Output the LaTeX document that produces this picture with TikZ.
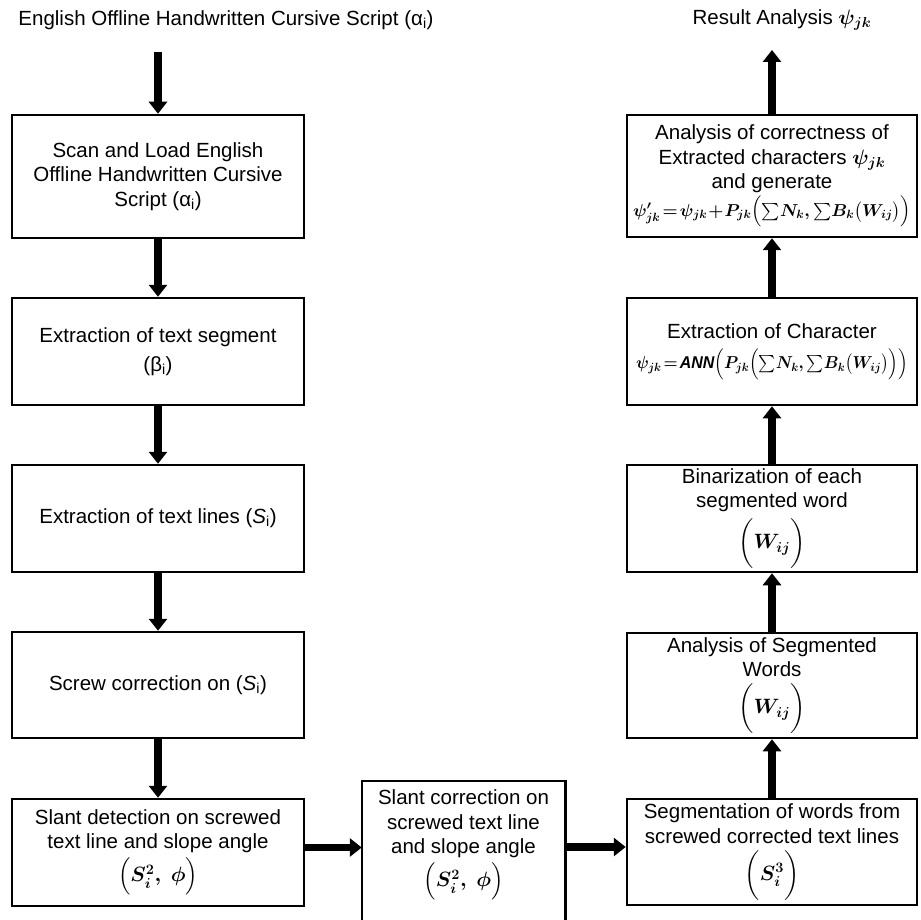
\documentclass[tikz,border=0pt]{standalone}
\usepackage{fontspec}
\setmainfont{Liberation Sans}
\usepackage{amsmath}
\usepackage{graphicx}
\usetikzlibrary{arrows.meta}
\begin{document}
\begin{tikzpicture}[x=1pt,y=-1pt,
  txt/.style={font=\fontsize{20.5}{24.5}\selectfont\boldmath},
  box/.style={txt, draw, line width=2.5pt, align=center, inner sep=2pt},
  lbox/.style={box, minimum width=292pt},
  rbox/.style={box, minimum width=290pt},
  arr/.style={line width=7.5pt, -{Triangle[width=18pt,length=12pt]}}]
\useasboundingbox[fill=white] (0,0) rectangle (921,920);

% titles
\node[txt] (T1) at (226,20) {English Offline Handwritten Cursive Script (α\textsubscript{i})};
\node[txt] (T2) at (782,20) {Result Analysis $\psi_{jk}$};
\coordinate (s1) at (158,52);
\coordinate (e1) at (772,50);

% left column
\node[lbox, minimum height=123pt] (L1) at (158,176.5) {Scan and Load English\\Offline Handwritten Cursive\\Script (α\textsubscript{i})};
\node[lbox, minimum height=107pt] (L2) at (158,351.5) {Extraction of text segment\\[4pt](β\textsubscript{i})};
\node[lbox, minimum height=107pt] (L3) at (158,518.5) {Extraction of text lines (\textit{S}\textsubscript{i})};
\node[lbox, minimum height=106pt] (L4) at (158,685) {Screw correction on (\textit{S}\textsubscript{i})};
\node[lbox, minimum height=107pt] (L5) at (158,852.5) {Slant detection on screwed\\text line and slope angle\\[4pt]$\Bigl(S_i^2,\ \phi\Bigr)$};

% middle box (open at the bottom)
\node[box, draw=none, minimum width=201pt, minimum height=126pt] (M) at (463.5,845) {Slant correction on\\screwed text line\\and slope angle\\[4pt]$\Bigl(S_i^2,\ \phi\Bigr)$};
\draw[line width=2.5pt] ([yshift=-145pt]M.north west) -- (M.north west) -- (M.north east) -- ([yshift=-145pt]M.north east);

% right column
\node[rbox, minimum height=122pt] (R1) at (772,176) {Analysis of correctness of\\Extracted characters $\psi_{jk}$\\and generate\\[3pt]\resizebox*{278pt}{31pt}{$\psi'_{jk}\!=\!\psi_{jk}\!+\!P_{jk}\Bigl(\textstyle\sum\! N_k,\sum\! B_k\bigl(W_{ij}\bigr)\Bigr)$}};
\node[rbox, minimum height=107pt] (R2) at (772,351.5) {Extraction of Character\\[6pt]\resizebox*{272pt}{31pt}{$\psi_{jk}\!=\!\mathit{ANN}\Bigl(P_{jk}\Bigl(\textstyle\sum\! N_k,\sum\! B_k\bigl(W_{ij}\bigr)\Bigr)\Bigr)$}};
\node[rbox, minimum height=107pt] (R3) at (772,518.5) {Binarization of each\\segmented word\\[6pt]$\biggl(W_{ij}\biggr)$};
\node[rbox, minimum height=105pt] (R4) at (772,685.5) {Analysis of Segmented\\Words\\[6pt]$\biggl(W_{ij}\biggr)$};
\node[rbox, minimum height=106pt] (R5) at (772,852) {Segmentation of words from\\screwed corrected text lines\\[6pt]$\biggl(S_i^3\biggr)$};

% arrows
\draw[arr] (s1) -- (L1.north);
\draw[arr] (L1.south) -- (L2.north);
\draw[arr] (L2.south) -- (L3.north);
\draw[arr] (L3.south) -- (L4.north);
\draw[arr] (L4.south) -- (L5.north);
\draw[arr] ([yshift=5pt]L5.east) -- ([yshift=5pt]L5.east -| M.west);
\draw[arr] ([yshift=5pt]R5.west -| M.east) -- ([yshift=5pt]R5.west);
\draw[arr] (R5.north) -- (R4.south);
\draw[arr] (R4.north) -- (R3.south);
\draw[arr] (R3.north) -- (R2.south);
\draw[arr] (R2.north) -- (R1.south);
\draw[arr] (R1.north) -- (e1);
\end{tikzpicture}
\end{document}
